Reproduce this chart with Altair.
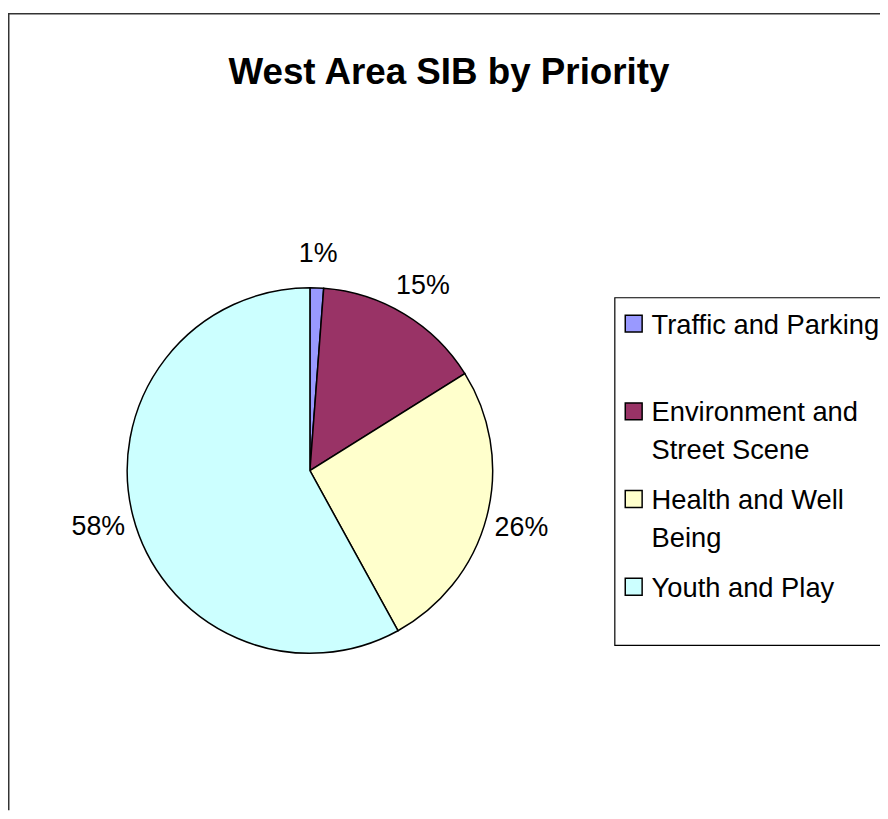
import altair as alt
import pandas as pd

categories = ["Traffic and Parking", "Environment and Street Scene", "Health and Well Being", "Youth and Play"]
legend_labels = ["Traffic and Parking", "Environment and\nStreet Scene", "Health and Well\nBeing", "Youth and Play"]
values = [1.2, 14.9, 25.9, 58.0]
colors = ["#9999FF", "#993366", "#FFFFCC", "#CCFFFF"]
title_text = "West Area SIB by Priority"

W, H = 878, 805
FONT = "Liberation Sans"

df = pd.DataFrame({
    "category": categories,
    "legend": legend_labels,
    "value": values,
    "idx": list(range(len(categories))),
})
df["label"] = [f"{round(v)}%" for v in values]

one = pd.DataFrame({"a": [0]})

color = alt.Color("category:N", scale=alt.Scale(domain=categories, range=colors), legend=None)
ylegend = alt.Y("category:N", scale=alt.Scale(domain=categories, type="point", range=[315, 580], padding=0), axis=None)

border_top = alt.Chart(one).mark_rule(color="#333333", strokeWidth=1.5).encode(
    x=alt.value(0), x2=alt.value(W), y=alt.value(3))
border_left = alt.Chart(one).mark_rule(color="#333333", strokeWidth=1.5).encode(
    x=alt.value(0.75), y=alt.value(3), y2=alt.value(H))

pie = alt.Chart(df).mark_arc(stroke="black", strokeWidth=1.5, outerRadius=184).encode(
    theta=alt.Theta("value:Q", stack=True),
    color=color,
    order=alt.Order("idx:Q"),
    x=alt.value(304), y=alt.value(463),
)

labels = alt.Chart(df).mark_text(radius=220, dy=2, fontSize=27, font=FONT, color="black").encode(
    theta=alt.Theta("value:Q", stack=True),
    order=alt.Order("idx:Q"),
    text="label:N",
    x=alt.value(304), y=alt.value(463),
)

legend_box = alt.Chart(one).mark_rect(fill="white", stroke="black", strokeWidth=1.2).encode(
    x=alt.value(611), x2=alt.value(W + 20), y=alt.value(289), y2=alt.value(639))

legend_sym = alt.Chart(df).mark_square(size=289, stroke="black", strokeWidth=1.5, opacity=1).encode(
    x=alt.value(630), y=ylegend, color=color)

legend_txt = alt.Chart(df).mark_text(
    align="left", baseline="top", dy=-12, fontSize=27.5, font=FONT, color="black",
    lineBreak="\n", lineHeight=38,
).encode(x=alt.value(648), y=ylegend, text="legend:N")

title = alt.Chart(one).mark_text(
    fontSize=37, fontWeight="bold", font=FONT, color="black", baseline="alphabetic", align="center"
).encode(x=alt.value(444), y=alt.value(74), text=alt.value(title_text))

chart = alt.layer(
    border_top, border_left, pie, labels, legend_box, legend_sym, legend_txt, title
).properties(
    width=W, height=H, autosize=alt.AutoSizeParams(type="none"), padding=0, background="white"
).configure_view(stroke=None)

chart.save("out.html", embed_options={"renderer": "svg", "actions": False})
